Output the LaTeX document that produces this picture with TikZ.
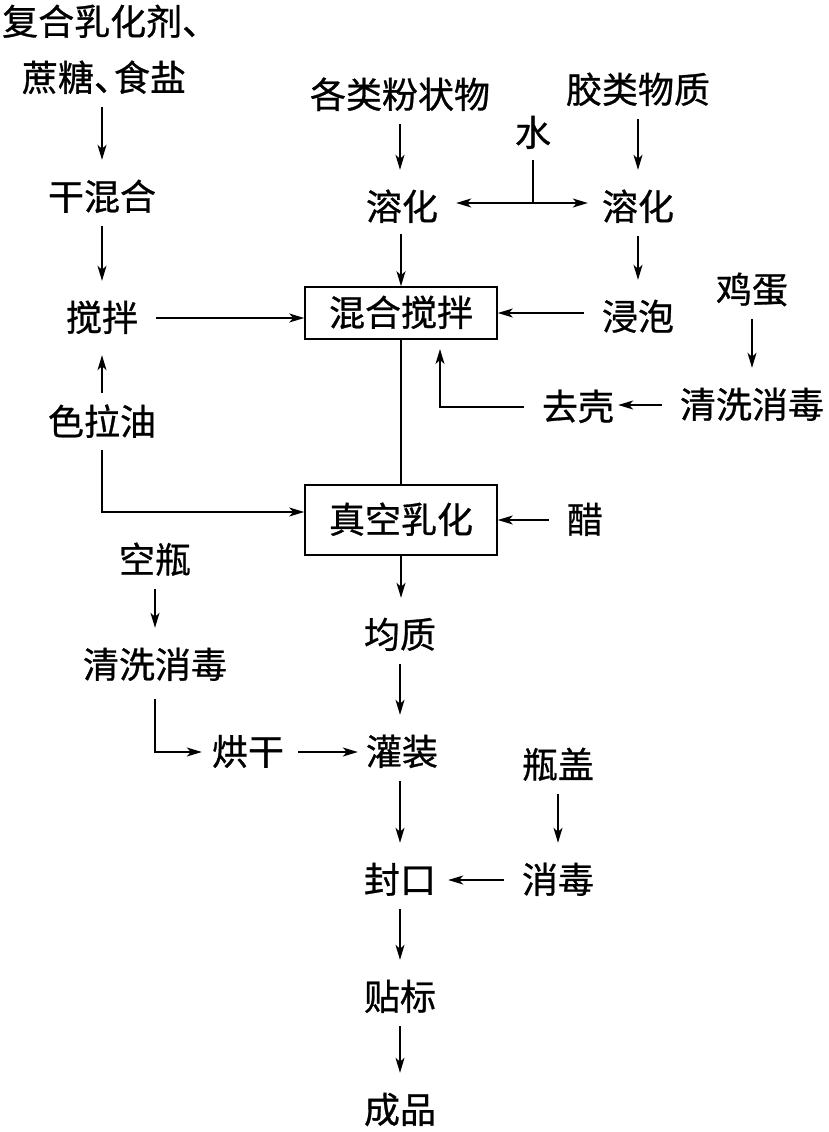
\documentclass[tikz,border=0pt]{standalone}
\usepackage{fontspec}
\setmainfont{Noto Sans CJK SC}[FakeBold=0.8]
\usetikzlibrary{arrows.meta}
\begin{document}
\begin{tikzpicture}[x=1pt,y=-1pt,
  txt/.style={inner sep=0pt,font=\fontsize{36}{40}\selectfont,text height=29pt,text depth=3pt},
  boxnode/.style={draw,line width=1.6pt,inner sep=0pt,minimum width=192pt,font=\fontsize{36}{40}\selectfont,text height=29pt,text depth=3pt},
  ar/.style={line width=1.4pt,-{Stealth[length=15pt,width=9pt,inset=4pt]}},
  ln/.style={line width=1.4pt},
  va/.style={ar,shorten <=13pt,shorten >=21pt},
  ha/.style={ar,shorten <=18pt,shorten >=12pt}]
\useasboundingbox (0,0) rectangle (829,1132);
% nodes
\node[txt,anchor=west] (t1) at (2,22) {复合乳化剂、};
\node[txt] (t2) at (104,78) {蔗糖、\hspace{-16pt}食盐};
\node[txt] (gm) at (102,197) {干混合};
\node[txt] (jb) at (102,318) {搅拌};
\node[txt] (sly) at (102,422) {色拉油};
\node[txt] (fz) at (400,95) {各类粉状物};
\node[txt] (jl) at (638,90) {胶类物质};
\node[txt] (sh) at (533,133) {水};
\node[txt] (rz1) at (402,207) {溶化};
\node[txt] (rz2) at (638,207) {溶化};
\node[boxnode,minimum height=52pt] (mix) at (401,313) {混合搅拌};
\node[txt] (jp) at (638,317) {浸泡};
\node[txt] (jd) at (752,290) {鸡蛋};
\node[txt] (qx1) at (752,405) {清洗消毒};
\node[txt] (qk) at (578,407) {去壳};
\node[boxnode,minimum height=70pt] (vac) at (401,520) {真空乳化};
\node[txt] (cu) at (585,520) {醋};
\node[txt] (kp) at (155,560) {空瓶};
\node[txt] (qx2) at (155,665) {清洗消毒};
\node[txt] (hg) at (248,752) {烘干};
\node[txt] (jz) at (400,635) {均质};
\node[txt] (gz) at (402,752) {灌装};
\node[txt] (pg) at (558,765) {瓶盖};
\node[txt] (xd) at (558,880) {消毒};
\node[txt] (fk) at (400,880) {封口};
\node[txt] (tb) at (400,997) {贴标};
\node[txt] (cp) at (400,1110) {成品};
\coordinate (J) at (533,203);
\coordinate (qkup) at (440,349);
% left column
\draw[va] (t2.south -| gm.north) -- (gm.north);
\draw[va] (gm.south) -- (jb.north);
\draw[va] (sly.north) -- (jb.south);
\draw[ar,shorten <=18pt] (jb.east) -- (jb.east -| mix.west);
\draw[ar,shorten <=12pt] (sly.south) |- ([yshift=8pt]vac.west);
% powders and gums
\draw[va] (fz.south) -- (fz.south |- rz1.north);
\draw[va] (jl.south) -- (jl.south |- rz2.north);
\draw[ln,shorten <=11pt] (sh.south) -- (J);
\draw[ar,shorten >=18pt] (J) -- (J -| rz1.east);
\draw[ar,shorten >=14pt] (J) -- (J -| rz2.west);
\draw[ar,shorten <=11pt] (rz1.south -| mix.north) -- (mix.north);
\draw[va] (rz2.south) -- (rz2.south |- jp.north);
\draw[ar,shorten <=18pt] (jp.west |- mix.east) -- (mix.east);
% eggs
\draw[va] (jd.south) -- (jd.south |- qx1.north);
\draw[ha,shorten >=4pt] (qx1.west) -- (qx1.west -| qk.east);
\draw[ar,shorten <=18pt] (qk.west) -| (qkup);
% main column
\draw[ln] (mix.south) -- (vac.north);
\draw[ar,shorten <=18pt] (cu.west) -- (cu.west -| vac.east);
\draw[ar,shorten >=21pt] (vac.south) -- (vac.south |- jz.north);
\draw[va] (jz.south) -- (jz.south |- gz.north);
% bottles
\draw[va] (kp.south) -- (kp.south |- qx2.north);
\draw[ar,shorten <=18pt,shorten >=10pt] (qx2.south) |- (hg.west);
\draw[ar,shorten <=14pt,shorten >=8pt] (hg.east) -- (hg.east -| gz.west);
\draw[va] (gz.south -| fk.north) -- (fk.north);
\draw[va] (pg.south) -- (pg.south |- xd.north);
\draw[ha] (xd.west) -- (xd.west -| fk.east);
\draw[va] (fk.south) -- (tb.north);
\draw[va] (tb.south) -- (cp.north);
\end{tikzpicture}
\end{document}
